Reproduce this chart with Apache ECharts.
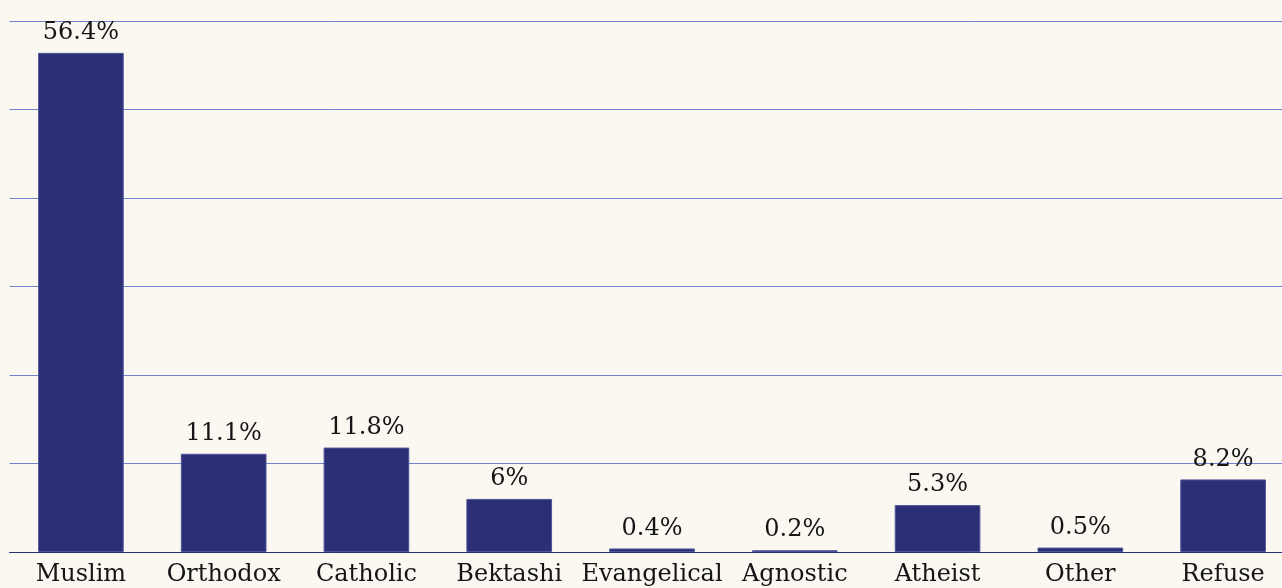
<!DOCTYPE html>
<html>
<head>
<meta charset="utf-8">
<script src="https://cdn.jsdelivr.net/npm/echarts@6/dist/echarts.min.js"></script>
<style>
  html, body { margin: 0; padding: 0; background: #fbf8f1; overflow: hidden; }
  /* chart is a bit wider than the window, the last bar's slot gets cut like in the original */
  #main { width: 1296px; height: 588px; }
</style>
</head>
<body>
<div id="main"></div>
<script>
// religion shares
const categories = ['Muslim', 'Orthodox', 'Catholic', 'Bektashi', 'Evangelical', 'Agnostic', 'Atheist', 'Other', 'Refuse'];
const shares = [56.4, 11.1, 11.8, 6, 0.4, 0.2, 5.3, 0.5, 8.2];
const yTicks = [0, 10, 20, 30, 40, 50, 60];

const chart = echarts.init(document.getElementById('main'));
const serif = '"DejaVu Serif", serif';

chart.setOption({
  backgroundColor: '#fbf8f1',
  animation: false,
  grid: { left: 9.5, right: 1.5, top: 21, bottom: 36, containLabel: false },
  xAxis: {
    type: 'category',
    data: categories,
    axisLine: { lineStyle: { color: '#2b2f73', width: 1 } },
    axisTick: { show: false },
    axisLabel: { color: '#151515', fontFamily: serif, fontSize: 24, margin: 11, interval: 0 }
  },
  yAxis: {
    type: 'value',
    min: yTicks[0],
    max: yTicks[yTicks.length - 1],
    interval: 10,
    axisLine: { show: false },
    axisTick: { show: false },
    axisLabel: { show: false },
    splitLine: { lineStyle: { color: '#7282cf', width: 1 } }
  },
  series: [{
    type: 'bar',
    data: shares,
    barWidth: '60%',
    itemStyle: { color: '#2c2f75', borderColor: '#4f5599', borderWidth: 1 },
    label: {
      show: true,
      position: 'top',
      distance: 8,
      color: '#151515',
      fontFamily: serif,
      fontSize: 24,
      formatter: p => p.value + '%'
    }
  }]
});
</script>
</body>
</html>
